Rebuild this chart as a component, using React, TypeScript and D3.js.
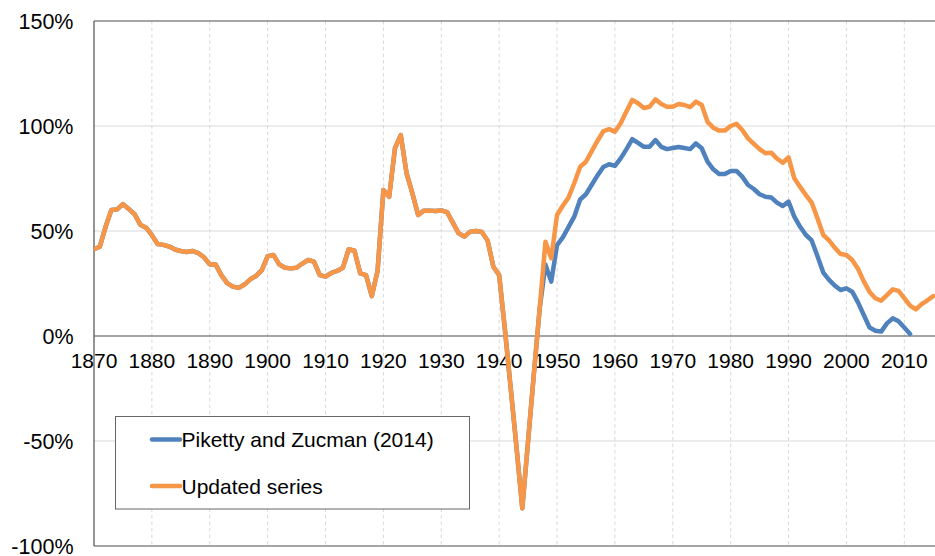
import React, { useEffect, useRef } from "react";
import * as d3 from "d3";

// years 1870..2015, one value per year (share, 1 = 100%)
const startYear = 1870;

// both series are the same until 1947
const commonValues = [
  0.413, 0.425, 0.52, 0.6, 0.603, 0.628, 0.605, 0.58, 0.53, 0.516, // 1870s
  0.48, 0.438, 0.434, 0.426, 0.412, 0.405, 0.4, 0.405, 0.395, 0.375, // 1880s
  0.341, 0.341, 0.29, 0.252, 0.235, 0.229, 0.245, 0.27, 0.286, 0.314, // 1890s
  0.38, 0.386, 0.341, 0.325, 0.322, 0.325, 0.345, 0.362, 0.354, 0.29, // 1900s
  0.283, 0.3, 0.31, 0.325, 0.413, 0.406, 0.298, 0.29, 0.19, 0.311, // 1910s
  0.695, 0.663, 0.894, 0.957, 0.775, 0.68, 0.576, 0.597, 0.597, 0.595, // 1920s
  0.598, 0.59, 0.54, 0.489, 0.473, 0.497, 0.5, 0.495, 0.455, 0.33, // 1930s
  0.29, 0.03, -0.25, -0.53, -0.82, -0.5, -0.18, 0.13, // 1940-1947
];

// Piketty and Zucman (2014), 1948..2011
const pikettyTail = [
  0.34, 0.259, // 1948-49
  0.433, 0.47, 0.52, 0.57, 0.65, 0.675, 0.72, 0.765, 0.805, 0.818, // 1950s
  0.81, 0.846, 0.89, 0.937, 0.92, 0.901, 0.901, 0.933, 0.901, 0.89, // 1960s
  0.895, 0.9, 0.895, 0.89, 0.917, 0.894, 0.83, 0.794, 0.771, 0.771, // 1970s
  0.786, 0.786, 0.759, 0.719, 0.7, 0.675, 0.663, 0.66, 0.635, 0.619, // 1980s
  0.64, 0.568, 0.52, 0.481, 0.455, 0.38, 0.302, 0.267, 0.24, 0.219, // 1990s
  0.227, 0.211, 0.16, 0.1, 0.04, 0.025, 0.021, 0.06, 0.084, 0.07, // 2000s
  0.04, 0.01, // 2010-11
];

// Updated series, 1948..2015
const updatedTail = [
  0.449, 0.37, // 1948-49
  0.576, 0.62, 0.66, 0.73, 0.806, 0.83, 0.88, 0.93, 0.975, 0.985, // 1950s
  0.973, 1.013, 1.07, 1.124, 1.108, 1.086, 1.092, 1.127, 1.105, 1.092, // 1960s
  1.092, 1.105, 1.1, 1.09, 1.116, 1.1, 1.02, 0.992, 0.978, 0.978, // 1970s
  1.0, 1.01, 0.981, 0.941, 0.915, 0.89, 0.87, 0.873, 0.845, 0.825, // 1980s
  0.851, 0.751, 0.71, 0.671, 0.635, 0.56, 0.481, 0.455, 0.42, 0.39, // 1990s
  0.386, 0.362, 0.32, 0.26, 0.21, 0.18, 0.168, 0.195, 0.222, 0.215, // 2000s
  0.18, 0.145, 0.127, 0.152, 0.17, 0.19, // 2010-15
];

const seriesNames = ["Piketty and Zucman (2014)", "Updated series"];
const seriesColors = ["#4F81BD", "#F79646"];
const xTicks = [1870, 1880, 1890, 1900, 1910, 1920, 1930, 1940, 1950, 1960, 1970, 1980, 1990, 2000, 2010];
const yTicks = [-1, -0.5, 0, 0.5, 1, 1.5];

const width = 935;
const height = 556;
const font = "'Liberation Sans', Arial, sans-serif";

const App = () => {
  const svgRef = useRef<SVGSVGElement | null>(null);

  useEffect(() => {
    const svg = d3.select(svgRef.current);
    svg.selectAll("*").remove();

    const left = 94;
    const right = 935;
    const top = 21;
    const bottom = 546;

    const x = d3.scaleLinear().domain([1870, 2010]).range([94, 904.3]);
    const y = d3.scaleLinear().domain([-1, 1.5]).range([bottom, top]);

    const toPoints = (vals: number[]) => vals.map((v, i) => ({ year: startYear + i, v }));
    const series = [
      toPoints(commonValues.concat(pikettyTail)),
      toPoints(commonValues.concat(updatedTail)),
    ];

    svg
      .append("defs")
      .append("clipPath")
      .attr("id", "plot-clip")
      .append("rect")
      .attr("x", left)
      .attr("y", top - 5)
      .attr("width", right - left)
      .attr("height", bottom - top + 10);

    // horizontal gridlines
    svg
      .append("g")
      .selectAll("line")
      .data(yTicks.filter((t) => t !== 0 && t !== -1 && t !== 1.5))
      .enter()
      .append("line")
      .attr("x1", left)
      .attr("x2", right)
      .attr("y1", (d) => y(d))
      .attr("y2", (d) => y(d))
      .attr("stroke", "#d9d9d9")
      .attr("stroke-width", 1);

    // vertical dashed gridlines
    svg
      .append("g")
      .selectAll("line")
      .data(xTicks.slice(1))
      .enter()
      .append("line")
      .attr("x1", (d) => x(d))
      .attr("x2", (d) => x(d))
      .attr("y1", top)
      .attr("y2", bottom)
      .attr("stroke", "#d9d9d9")
      .attr("stroke-width", 1)
      .attr("stroke-dasharray", "3.5,3");

    // frame lines: top, 0% axis, bottom, left
    const axisColor = "#4d4d4d";
    [1.5, 0, -1].forEach((t) => {
      svg
        .append("line")
        .attr("x1", left)
        .attr("x2", right)
        .attr("y1", y(t))
        .attr("y2", y(t))
        .attr("stroke", axisColor)
        .attr("stroke-width", 1.2);
    });
    svg
      .append("line")
      .attr("x1", left)
      .attr("x2", left)
      .attr("y1", top)
      .attr("y2", bottom)
      .attr("stroke", axisColor)
      .attr("stroke-width", 1.2);

    // y labels
    svg
      .append("g")
      .selectAll("text")
      .data(yTicks)
      .enter()
      .append("text")
      .attr("x", 73.5)
      .attr("y", (d) => y(d))
      .attr("dy", "0.36em")
      .attr("text-anchor", "end")
      .attr("font-family", font)
      .attr("font-size", 21.5)
      .attr("fill", "#000")
      .text((d) => `${Math.round(d * 100)}%`);

    // x labels
    svg
      .append("g")
      .selectAll("text")
      .data(xTicks)
      .enter()
      .append("text")
      .attr("x", (d) => x(d))
      .attr("y", 367.5)
      .attr("text-anchor", "middle")
      .attr("font-family", font)
      .attr("font-size", 21)
      .attr("fill", "#000")
      .text((d) => d);

    // lines
    const line = d3
      .line<{ year: number; v: number }>()
      .x((d) => x(d.year))
      .y((d) => y(d.v));

    svg
      .append("g")
      .attr("clip-path", "url(#plot-clip)")
      .selectAll("path")
      .data(series)
      .enter()
      .append("path")
      .attr("d", (d) => line(d))
      .attr("fill", "none")
      .attr("stroke", (d, i) => seriesColors[i])
      .attr("stroke-width", 4.5)
      .attr("stroke-linejoin", "round")
      .attr("stroke-linecap", "round");

    // legend
    const legend = svg.append("g");
    legend
      .append("rect")
      .attr("x", 115.5)
      .attr("y", 416.5)
      .attr("width", 354)
      .attr("height", 92.5)
      .attr("fill", "#fff")
      .attr("stroke", "#666")
      .attr("stroke-width", 1);

    seriesNames.forEach((name, i) => {
      const ly = 439.5 + i * 46.5;
      legend
        .append("line")
        .attr("x1", 152)
        .attr("x2", 180)
        .attr("y1", ly)
        .attr("y2", ly)
        .attr("stroke", seriesColors[i])
        .attr("stroke-width", 4.5)
        .attr("stroke-linecap", "round");
      legend
        .append("text")
        .attr("x", 181.5)
        .attr("y", ly)
        .attr("dy", "0.36em")
        .attr("font-family", font)
        .attr("font-size", 21)
        .attr("fill", "#000")
        .text(name);
    });
  }, []);

  return (
    <svg
      ref={svgRef}
      width={width}
      height={height}
      style={{ position: "absolute", left: 0, top: 0, background: "#fff" }}
    ></svg>
  );
};

export default App;
